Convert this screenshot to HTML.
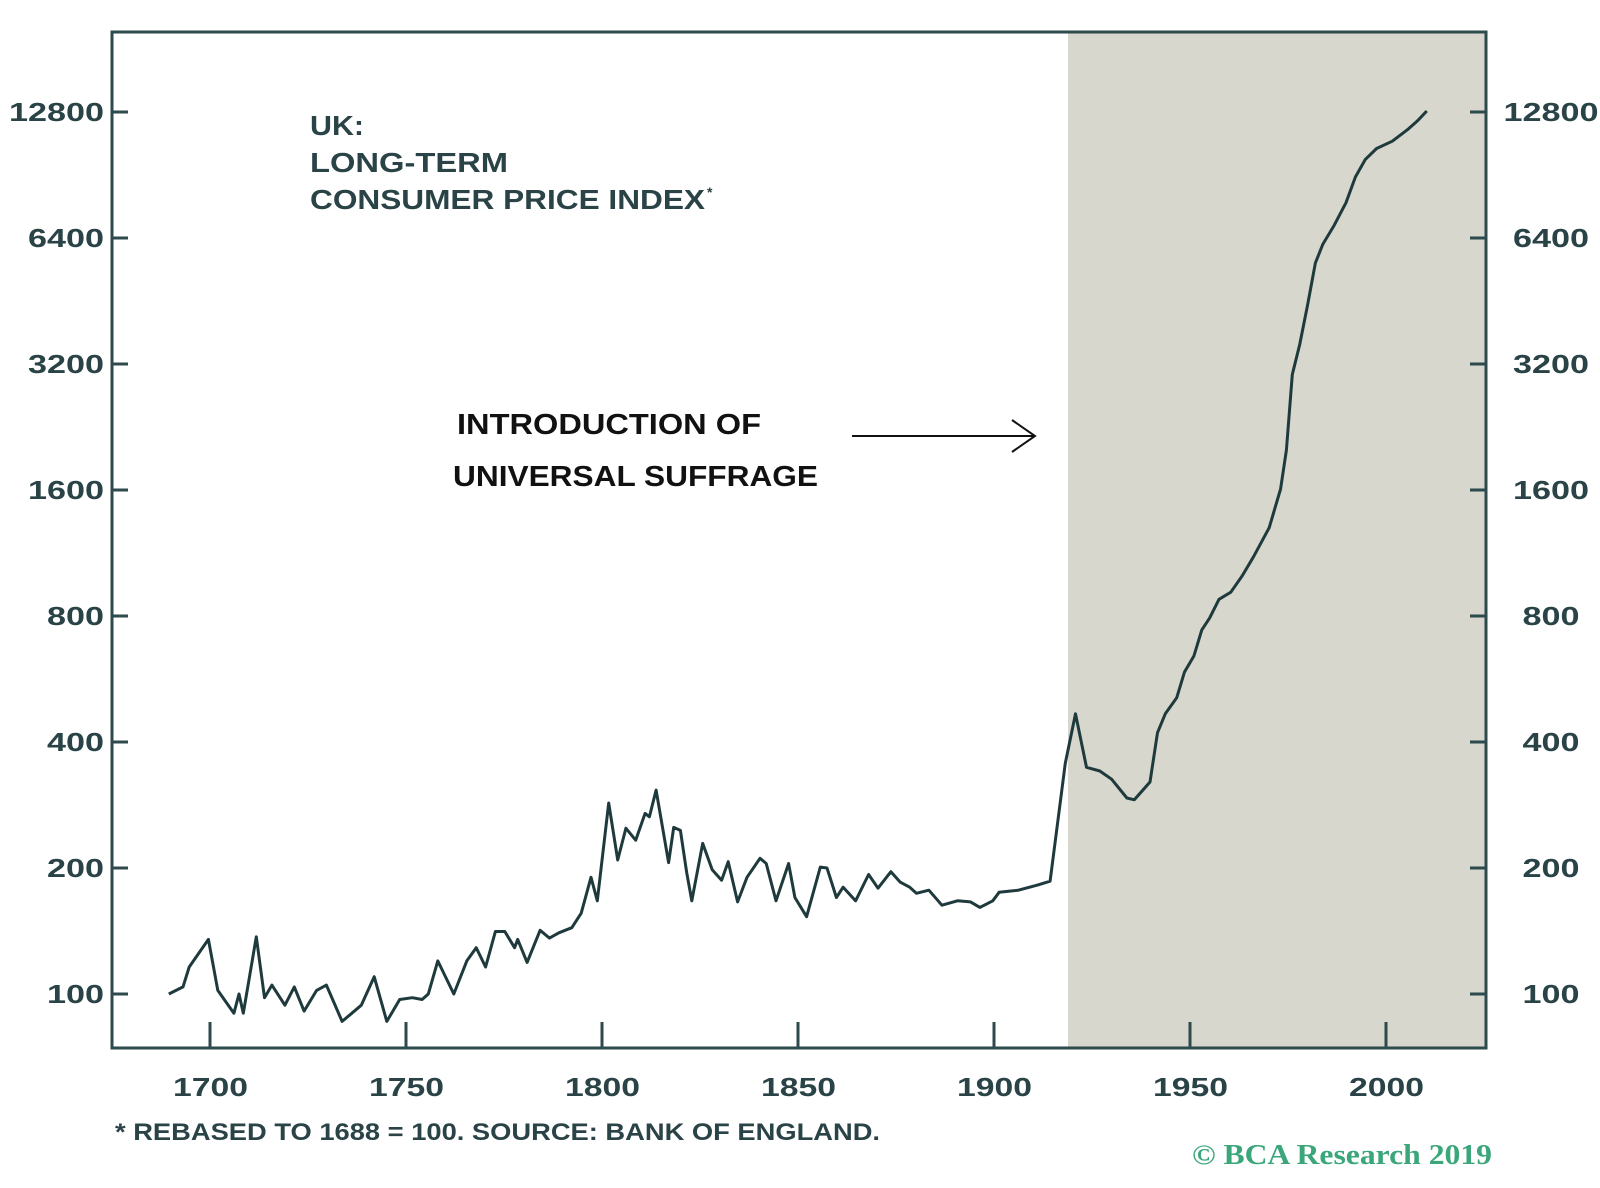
<!DOCTYPE html>
<html><head><meta charset="utf-8"><style>
html,body{margin:0;padding:0;background:#fff;}
svg{display:block;font-family:"Liberation Sans",sans-serif;}
</style></head><body>
<svg width="1600" height="1188" viewBox="0 0 1600 1188">
<rect x="1068" y="32" width="418" height="1016" fill="#d7d7cd"/>
<g id="ticks"></g>
<path id="line" fill="none" stroke="#1f3a3d" stroke-width="3" stroke-linejoin="round"/>
<rect x="112" y="32" width="1374" height="1016" fill="none" stroke="#2e4a4d" stroke-width="3"/>
<g fill="#2a4346" font-size="28" font-weight="bold">
<text x="310" y="135" textLength="54" lengthAdjust="spacingAndGlyphs">UK:</text>
<text x="310" y="172" textLength="198" lengthAdjust="spacingAndGlyphs">LONG-TERM</text>
<text x="310" y="209" textLength="395" lengthAdjust="spacingAndGlyphs">CONSUMER PRICE INDEX</text>
<text x="707" y="197" font-size="14">*</text>
</g>
<g fill="#111" font-size="29" font-weight="bold">
<text x="457" y="434" textLength="304" lengthAdjust="spacingAndGlyphs">INTRODUCTION OF</text>
<text x="453" y="486" textLength="365" lengthAdjust="spacingAndGlyphs">UNIVERSAL SUFFRAGE</text>
</g>
<g stroke="#111" stroke-width="2" fill="none">
<line x1="852" y1="436" x2="1034" y2="436"/><polyline points="1012,420 1035,436 1012,452"/>
</g>
<text x="115" y="1140" fill="#2a4346" font-size="24" font-weight="bold" textLength="765" lengthAdjust="spacingAndGlyphs">* REBASED TO 1688 = 100. SOURCE: BANK OF ENGLAND.</text>
<text x="1192" y="1164" fill="#3aa67a" font-size="28" font-weight="bold" font-family="Liberation Serif, serif" textLength="300" lengthAdjust="spacingAndGlyphs">© BCA Research 2019</text>
</svg>
<script>
const years=[1689.5,1693.1,1694.7,1699.6,1702.0,1706.1,1707.4,1708.5,1711.8,1713.9,1715.8,1719.1,1721.5,1724.0,1727.2,1729.7,1733.7,1736.2,1738.6,1741.9,1745.1,1748.4,1751.6,1754.1,1755.7,1758.1,1762.2,1765.5,1767.9,1770.3,1772.8,1775.2,1777.7,1778.5,1780.9,1784.2,1786.6,1789.0,1792.3,1794.7,1797.2,1798.8,1801.7,1804.0,1806.1,1808.6,1811.0,1812.1,1813.8,1817.0,1818.3,1820.0,1821.6,1822.9,1825.7,1828.1,1830.5,1832.2,1834.6,1837.0,1840.3,1841.9,1844.4,1847.6,1849.2,1852.2,1855.7,1857.4,1859.8,1861.5,1864.7,1868.0,1870.4,1873.7,1876.1,1878.5,1880.2,1883.4,1886.7,1890.7,1894.0,1896.4,1899.7,1901.3,1906.2,1911.1,1914.3,1918.2,1920.8,1923.6,1927,1930,1933.9,1935.8,1939.8,1941.7,1943.7,1946.6,1948.6,1951,1953,1955,1957.4,1960.4,1963.3,1966.2,1970.2,1973.1,1974.6,1976.1,1978,1980,1982,1983.9,1986.8,1989.8,1992.2,1994.7,1997.6,2001.6,2005.5,2007.9,2010.4];
const cpi=[100,104,116,135,102,90,100,90,137,98,105,94,104,91,102,105,86,90,94,110,86,97,98,97,100,120,100,120,129,116,141,141,129,135,119,142,136,140,144,156,190,167,286,209,249,233,270,265,307,206,250,246,195,167,229,198,187,207,166,190,211,205,167,205,170,153,201,200,170,180,167,193,179,196,185,180,174,177,163,167,166,161,167,175,177,182,186,356,467,348,341,326,294,291,321,421,467,510,588,642,741,791,877,912,997,1108,1300,1610,1993,3020,3570,4430,5580,6190,6870,7770,8950,9850,10470,10900,11620,12160,12870];
const yTicks=[100,200,400,800,1600,3200,6400,12800];
const xTicks=[1700,1750,1800,1850,1900,1950,2000];
const xS=y=>210+(y-1700)*3.92;
const yS=v=>994-126*Math.log2(v/100);
const NS="http://www.w3.org/2000/svg";
const g=document.getElementById('ticks');
function mk(tag,a,txt){const e=document.createElementNS(NS,tag);for(const k in a)e.setAttribute(k,a[k]);if(txt)e.textContent=txt;g.appendChild(e);return e;}
yTicks.forEach(v=>{const y=yS(v);const s=String(v);const w=s.length*19;
let t=mk('line',{x1:112,x2:128,y1:y,y2:y,stroke:'#2e4a4d','stroke-width':3});


t=mk('line',{x1:1470,x2:1486,y1:y,y2:y,stroke:'#2e4a4d','stroke-width':3});


let l=mk('text',{x:104-w,y:y+9,fill:'#2a4346','font-size':26,'font-weight':'bold',textLength:w,lengthAdjust:'spacingAndGlyphs'},s);


l=mk('text',{x:1551-w/2,y:y+9,fill:'#2a4346','font-size':26,'font-weight':'bold',textLength:w,lengthAdjust:'spacingAndGlyphs'},s);


});
xTicks.forEach(v=>{const x=xS(v);
const t=mk('line',{x1:x,x2:x,y1:1022,y2:1048,stroke:'#2e4a4d','stroke-width':3});


const l=mk('text',{x:x-37,y:1096,fill:'#2a4346','font-size':26,'font-weight':'bold',textLength:75,lengthAdjust:'spacingAndGlyphs'},String(v));


});
document.getElementById('line').setAttribute('d',years.map((y,i)=>(i?'L':'M')+xS(y).toFixed(1)+','+yS(cpi[i]).toFixed(1)).join(''));
</script>
</body></html>
